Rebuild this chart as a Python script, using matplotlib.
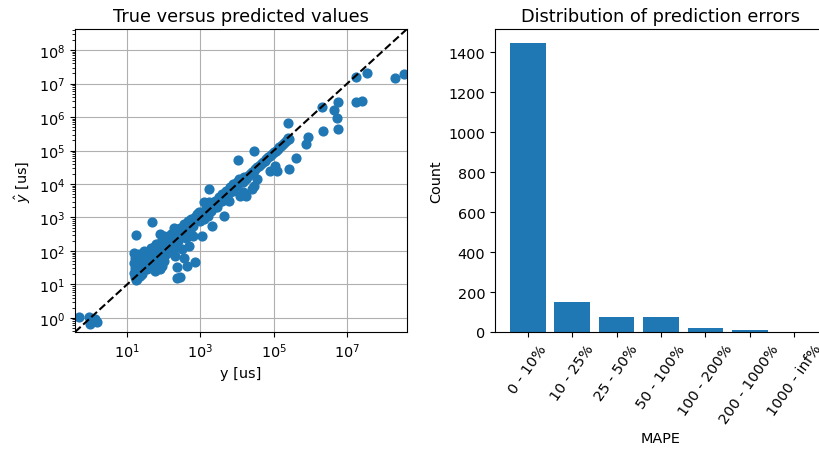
import numpy as np
import matplotlib
matplotlib.use('Agg')
import matplotlib.pyplot as plt
from matplotlib.ticker import LogLocator, NullFormatter

# exponents (log10): true and predicted runtimes
log_y_true = [-0.32, -0.05, 0.0, 0.18, 0.09, 0.12,
              1.23, 1.2, 1.22, 1.2, 1.22, 1.2, 1.21, 1.28, 1.3, 1.3, 1.32, 1.25, 1.35, 1.4, 1.38, 1.4, 1.45, 1.45,
              1.68, 1.91, 2.27,
              1.5, 1.55, 1.6, 1.65, 1.7, 1.75, 1.8, 1.85, 1.9, 1.95, 2.0, 2.05, 2.1, 2.15, 2.2, 2.25, 2.3, 2.35,
              2.4, 2.45, 2.5, 2.55, 2.6, 2.65, 2.7, 2.75, 2.8, 2.85, 2.9, 2.95, 3.0, 3.05, 3.1, 3.15, 3.2, 3.25,
              3.3, 3.35, 3.4, 3.45, 3.5, 3.55, 3.6, 3.65, 3.7, 3.75, 3.8, 3.85, 3.9, 3.95, 4.0, 4.1, 4.2, 4.3,
              4.4, 4.5, 4.6, 4.7, 4.8, 4.9, 5.0, 5.1, 5.2, 5.3, 5.4,
              1.91, 1.95, 2.36, 2.45, 2.36, 2.64, 2.86, 2.5, 2.55, 2.7, 2.3, 2.0, 1.75, 2.8, 3.05, 3.32, 3.64,
              3.23, 3.45, 3.77, 3.55,
              3.23, 2.9, 3.1,
              4.45, 4.03, 4.55, 4.41, 4.23, 4.09, 4.16, 4.45, 4.9, 5.09, 5.02, 5.42, 5.6, 5.39, 5.39, 5.93, 5.89,
              6.32, 6.34, 6.75, 6.64, 6.73, 6.75, 7.23, 7.53, 8.3, 8.55, 7.23, 7.41,
              1.25, 1.3, 1.35, 1.4, 1.45, 1.5, 1.55, 1.6, 1.65, 1.7, 1.75, 1.8, 1.85, 1.9, 1.95, 2.0, 2.05,
              2.1, 2.15, 2.2, 2.25, 2.3, 2.35, 2.4, 2.45, 2.5, 2.55, 2.6, 2.65, 2.7, 2.75, 2.85, 2.95, 3.0,
              3.1, 3.2, 3.3, 3.4, 3.5, 3.6, 3.7, 3.8, 3.9, 4.0, 4.05, 4.15, 4.25, 4.35, 4.45, 4.55, 4.65,
              4.75, 4.85, 4.95, 5.05, 5.15, 5.25, 5.35]
log_y_pred = [0.02, 0.04, -0.18, -0.11, -0.08, -0.02,
              2.48, 1.95, 1.8, 1.65, 1.5, 1.35, 1.22, 1.15, 1.3, 1.7, 1.9, 1.12, 1.25, 1.45, 1.6, 1.8, 2.0, 1.55,
              2.88, 2.51, 2.68,
              1.5, 1.7, 1.85, 2.1, 1.6, 1.95, 2.2, 1.75, 2.0, 2.3, 2.1, 1.9, 2.4, 2.2, 2.5, 2.0, 2.35, 2.6,
              2.3, 2.7, 2.5, 2.8, 2.4, 2.9, 2.6, 2.95, 2.75, 2.9, 3.05, 2.95, 3.1, 3.0, 3.2, 3.1, 3.3, 3.2,
              3.4, 3.35, 3.5, 3.4, 3.6, 3.55, 3.7, 3.6, 3.8, 3.7, 3.9, 3.85, 4.0, 3.9, 4.05, 4.1, 4.2, 4.25,
              4.35, 4.45, 4.55, 4.65, 4.75, 4.85, 4.95, 5.05, 5.15, 5.25, 5.35,
              1.46, 1.56, 1.51, 1.21, 1.19, 1.56, 1.68, 2.05, 1.8, 2.15, 1.85, 1.7, 1.4, 2.45, 2.46, 2.75, 3.05,
              3.45, 3.3, 3.5, 3.55,
              3.85, 3.1, 3.45,
              5.0, 4.72, 4.15, 3.85, 3.65, 3.65, 3.75, 3.95, 4.4, 4.4, 4.55, 4.45, 4.77, 5.82, 5.37, 5.39, 5.19,
              6.29, 5.57, 6.46, 6.21, 5.97, 5.64, 7.21, 7.31, 7.18, 7.28, 6.46, 6.49,
              1.45, 1.55, 1.4, 1.3, 1.75, 1.95, 1.45, 1.6, 1.75, 2.0, 2.15, 1.8, 2.05, 2.25, 1.85, 2.45, 2.15,
              2.05, 2.45, 2.3, 2.55, 2.15, 2.4, 2.55, 2.45, 2.7, 2.6, 2.75, 2.55, 2.85, 2.7, 3.0, 3.15, 2.9,
              2.95, 3.05, 3.2, 3.3, 3.45, 3.5, 3.65, 3.75, 3.8, 3.95, 4.15, 4.05, 4.15, 4.3, 4.4, 4.5, 4.6,
              4.7, 4.8, 4.9, 5.0, 5.1, 5.2, 5.3]

mape_bins = ['0 - 10%', '10 - 25%', '25 - 50%', '50 - 100%', '100 - 200%', '200 - 1000%', '1000 - inf%']
counts = [1445, 148, 73, 73, 18, 12, 2]

y = np.power(10.0, log_y_true)
y_hat = np.power(10.0, log_y_pred)
lims = [10**-0.42, 10**8.63]

plt.rcParams['font.size'] = 10.4
plt.rcParams['axes.titlesize'] = 12.8

fig = plt.figure(figsize=(8.2, 4.56), dpi=100)

# links: scatter waar vs voorspeld
ax1 = fig.add_axes([75/820, 123/456, 332/820, 303/456])
ax1.scatter(y, y_hat, s=40)
ax1.plot(lims, lims, 'k--')
ax1.set_xscale('log')
ax1.set_yscale('log')
ax1.set_xlim(lims)
ax1.set_ylim(lims)
ax1.yaxis.set_major_locator(LogLocator(base=10, numticks=20))
ax1.yaxis.set_minor_locator(LogLocator(base=10, subs=np.arange(2, 10), numticks=200))
ax1.yaxis.set_minor_formatter(NullFormatter())
ax1.grid(True, which='major')
ax1.set_axisbelow(True)
ax1.set_title('True versus predicted values')
ax1.set_xlabel('y [us]')
ax1.set_ylabel(r'$\hat{y}$ [us]')

# rechts: histogram van fouten (as loopt voorbij de rand van de figuur)
ax2 = fig.add_axes([495/820, 123/456, 332/820, 303/456])
ax2.bar(mape_bins, counts)
ax2.set_title('Distribution of prediction errors')
ax2.set_xlabel('MAPE')
ax2.set_ylabel('Count')
plt.setp(ax2.get_xticklabels(), rotation=55)

fig.savefig('out.png', dpi=100)
